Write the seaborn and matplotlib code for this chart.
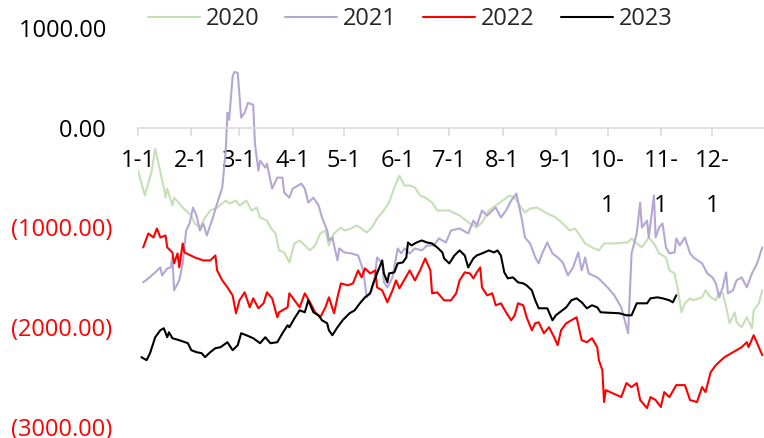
import matplotlib
matplotlib.use("Agg")
import matplotlib.pyplot as plt
import seaborn as sns
import pandas as pd

# ---- data (day of year, value) ----
days_2020 = [0, 4, 8, 10, 15, 16, 17, 20, 21, 26, 31, 33, 36, 39, 42, 46, 51, 53, 57, 59, 63, 66, 69, 71, 75, 77, 80, 82, 85, 88,
             91, 94, 97, 100, 103, 106, 109, 111, 114, 118, 120, 124, 127, 130, 133, 136, 139, 142, 146, 149, 152, 155, 158,
             161, 164, 167, 171, 174, 178, 181, 187, 193, 197, 200, 204, 208, 212, 216, 219, 222, 225, 228, 232, 238, 243,
             247, 251, 254, 257, 260, 264, 268, 271, 277, 285, 287, 290, 293, 297, 300, 303, 307, 309, 312, 314, 316, 318,
             321, 323, 328, 330, 333, 336, 338, 340, 342, 344, 347, 348, 351, 354, 357, 358, 361, 363]
vals_2020 = [-430, -680, -430, -210, -600, -700, -610, -780, -700, -800, -880, -960, -1000, -900, -830, -800, -730, -760, -730,
             -780, -730, -830, -800, -900, -930, -1000, -1060, -1230, -1250, -1350,
             -1160, -1130, -1180, -1230, -1180, -1060, -1030, -1180, -1060, -1000, -1030, -1010, -980, -1010, -1050, -1000,
             -910, -850, -750, -600, -480, -580, -580, -600, -680, -700, -750, -830, -830, -830, -880, -960, -1000, -950,
             -830, -780, -730, -680, -700, -780, -850, -810, -800, -860, -900, -960, -1030, -1010, -1080, -1160, -1200,
             -1230, -1160, -1160, -1150, -1110, -1160, -1200, -1100, -1160, -1260, -1300, -1430, -1460, -1630, -1850,
             -1760, -1710, -1730, -1700, -1630, -1700, -1730, -1650, -1660, -1800, -1960, -1850, -1950, -2000, -1900,
             -2010, -1830, -1760, -1630]

days_2021 = [3, 6, 10, 13, 14, 17, 19, 20, 21, 24, 26, 28, 30, 32, 34, 36, 38, 40, 43, 46, 49, 51, 52, 53, 55, 56, 58, 60, 62,
             64, 67, 68, 70, 71, 74, 75, 78, 81, 84, 85, 88, 90, 95, 97, 99, 102, 105, 107, 110, 111, 113, 116, 117, 120,
             124, 128, 131, 133, 136, 138, 139, 142, 143, 145, 148, 151, 153, 155, 158, 161, 165, 168, 172, 175, 179, 182,
             187, 192, 195, 197, 200, 203, 208, 211, 214, 217, 220, 223, 225, 228, 231, 233, 235, 238, 241, 244, 247, 250,
             253, 256, 258, 260, 262, 267, 269, 273, 277, 281, 283, 285, 287, 290, 292, 293, 296, 297, 300, 301, 303, 305,
             307, 309, 312, 313, 315, 318, 321, 323, 328, 331, 334, 336, 338, 340, 342, 343, 346, 348, 351, 354, 357, 360,
             363]
vals_2021 = [-1550, -1510, -1450, -1400, -1480, -1410, -1400, -1300, -1630, -1530, -1360, -1030, -960, -800, -880, -1030,
             -960, -1080, -930, -760, -600, -230, 150, 80, 510, 560, 550, 100, 150,
             250, 230, -160, -430, -330, -400, -360, -610, -500, -500, -650, -700, -610, -560, -610, -750, -700, -780,
             -900, -1030, -1130, -1100, -1330, -1210, -1250,
             -1260, -1280, -1430, -1700, -1630, -1460, -1300, -1360, -1550, -1600, -1500, -1210, -1260, -1210, -1260,
             -1210, -1230, -1180, -1180, -1110, -1150, -1030,
             -1010, -1060, -930, -980, -830, -880, -800, -900, -830, -730, -660, -900, -1100, -1160, -1300, -1360, -1260,
             -1150, -1260, -1300, -1350, -1480,
             -1400, -1250, -1430, -1300, -1460, -1500, -1530, -1600, -1680, -1800, -1930, -2060, -1260, -1060, -750,
             -1000, -930, -1100, -680, -1100, -1000, -960,
             -1200, -1260, -1250, -1110, -1180, -1100, -1260, -1300, -1360, -1460, -1500, -1560, -1700, -1600, -1450,
             -1660, -1630, -1530, -1500, -1600, -1460, -1360,
             -1200]

days_2022 = [3, 6, 9, 11, 13, 16, 17, 20, 21, 23, 24, 26, 27, 33, 38, 42, 45, 46, 49, 52, 55, 57, 59, 62, 65, 67, 70, 73, 75,
             78, 81, 82, 87, 88, 91, 94, 97, 100, 103, 106, 109, 111, 114, 116, 118, 122, 125, 128, 130, 132, 135, 138,
             139, 142, 145, 148, 150, 152, 158, 161, 164, 167, 170, 171, 174, 178, 182, 185, 187, 190, 193, 195, 197, 199,
             200, 203, 206, 208, 211, 214, 217, 219, 221, 224, 226, 229, 231, 233, 236, 239, 242, 244, 246, 249, 252, 255,
             258, 261, 264, 267, 268, 270, 271, 272, 281, 284, 287, 290, 292, 296, 298, 301, 304, 306, 309, 313, 318, 321,
             325, 328, 330, 333, 336, 341, 348, 351, 354, 355, 358, 361, 363]
vals_2022 = [-1200, -1060, -1100, -1010, -1100, -1080, -1200, -1250, -1360, -1260, -1400, -1160, -1250, -1300, -1330,
             -1330, -1280, -1430, -1530, -1600, -1680, -1860, -1730, -1650, -1800, -1710, -1810, -1760, -1650,
             -1710, -1900, -1850, -1800, -1660, -1730, -1800, -1660, -1750, -1850, -1900, -1800, -1700, -1860, -1700,
             -1560, -1580, -1560, -1430, -1500, -1410, -1460, -1430,
             -1600, -1630, -1750, -1630, -1530, -1610, -1430, -1530, -1430, -1310, -1430, -1660, -1650, -1730, -1730,
             -1660, -1530, -1450, -1460, -1510, -1450, -1400,
             -1600, -1680, -1660, -1780, -1760, -1850, -1930, -1880, -1760, -1780, -1900, -2030, -1960, -1950, -2060,
             -2000, -2100, -2180, -2030, -1960, -1930, -1900,
             -2130, -2150, -2110, -2200, -2330, -2430, -2750, -2630, -2700, -2560, -2600, -2560, -2730, -2810, -2700,
             -2730, -2800, -2650, -2700, -2580, -2580, -2730,
             -2750, -2600, -2650, -2450, -2380, -2300, -2230, -2200, -2150, -2200, -2080, -2200, -2280]

days_2023 = [2, 5, 7, 10, 13, 15, 17, 18, 20, 24, 29, 31, 34, 37, 39, 42, 45, 48, 52, 55, 58, 60, 63, 67, 71, 74, 77, 81, 84,
             87, 88, 91, 94, 97, 99, 102, 105, 107, 110, 111, 113, 116, 119, 123, 126, 129, 132, 135, 136, 139, 142, 143,
             145, 146, 149, 151, 154, 156, 157, 159, 162, 165, 168, 171, 174, 177, 178, 181, 184, 187, 190, 192, 195, 197,
             200, 204, 207, 209, 211, 213, 215, 218, 221, 224, 226, 229, 231, 233, 238, 241, 243, 249, 252, 255, 258, 261,
             264, 267, 269, 280, 284, 287, 290, 296, 298, 302, 305, 309, 311, 313]
vals_2023 = [-2300, -2330, -2260, -2100, -2030, -2010, -2100, -2050, -2110, -2130, -2160, -2230, -2250, -2260, -2300,
             -2250, -2210, -2200, -2150, -2230, -2180, -2060, -2080, -2110, -2160, -2100, -2160, -2150, -2060,
             -1980, -2000, -1910, -1830, -1850, -1730, -1850, -1880, -1930, -1960, -2030, -2080, -2000, -1930, -1860,
             -1830, -1760, -1700, -1660, -1600, -1460, -1330, -1460,
             -1550, -1460, -1450, -1360, -1350, -1300, -1150, -1180, -1150, -1130, -1150, -1160, -1200, -1250, -1310,
             -1360, -1280, -1230, -1280, -1400, -1310, -1280,
             -1260, -1230, -1250, -1230, -1280, -1450, -1510, -1500, -1550, -1560, -1580, -1630, -1730, -1810, -1810,
             -1930, -1880, -1800, -1730, -1710, -1750, -1810,
             -1780, -1800, -1850, -1860, -1880, -1880, -1760, -1760, -1710, -1700, -1710, -1730, -1750, -1680]

years = ["2020", "2021", "2022", "2023"]
colors = ["#C5E0B4", "#B4A7D6", "#FF0000", "#000000"]

month_days = [0, 31, 59, 90, 120, 151, 181, 212, 243, 273, 304, 334]
month_labels = ["1-1", "2-1", "3-1", "4-1", "5-1", "6-1", "7-1", "8-1", "9-1", "10-\n1", "11-\n1", "12-\n1"]
y_ticks = [1000, 0, -1000, -2000, -3000]

# ---- build long table ----
frames = []
for yr, d, v in zip(years, [days_2020, days_2021, days_2022, days_2023],
                    [vals_2020, vals_2021, vals_2022, vals_2023]):
    frames.append(pd.DataFrame({"day": d, "value": v, "year": yr}))
df = pd.concat(frames, ignore_index=True)

sns.set_theme(style="white")
plt.rcParams["font.family"] = ["Open Sans", "DejaVu Sans"]

fig = plt.figure(figsize=(7.64, 4.38), dpi=100)
ax = fig.add_axes([138 / 764, 1 - 427 / 438, 1 - 138 / 764, (427 - 28) / 438])

sns.lineplot(data=df, x="day", y="value", hue="year", hue_order=years,
             palette=dict(zip(years, colors)), estimator=None, sort=False,
             linewidth=1.5, ax=ax)

ax.set_xlim(0, 364)
ax.set_ylim(-3000, 1000)
ax.set_xlabel("")
ax.set_ylabel("")

for s in ["left", "top", "right"]:
    ax.spines[s].set_visible(False)
ax.spines["bottom"].set_position(("data", 0))
ax.spines["bottom"].set_color("#D9D9D9")
ax.spines["bottom"].set_linewidth(1.1)

ax.set_xticks(month_days)
ax.set_xticklabels(month_labels, fontsize=17, color="#000000", linespacing=2.15)
ax.tick_params(axis="x", direction="out", length=5.8, width=1.1, color="#D9D9D9", pad=9.8, bottom=True)

ax.set_yticks(y_ticks)
ylabels = []
for t in y_ticks:
    if t < 0:
        ylabels.append("(%.2f)" % abs(t))
    else:
        ylabels.append("%.2f " % t)
ax.set_yticklabels(ylabels, fontsize=17)
for lab, t in zip(ax.get_yticklabels(), y_ticks):
    lab.set_color("#FF0000" if t < 0 else "#000000")
ax.tick_params(axis="y", length=0, pad=18.5)

handles, labels = ax.get_legend_handles_labels()
if ax.get_legend() is not None:
    ax.get_legend().remove()
fig.legend(handles, labels, loc="center", bbox_to_anchor=(410 / 764, 1 - 19 / 438), ncol=4,
           frameon=False, fontsize=17, handlelength=2.2, handletextpad=0.25, columnspacing=1.1,
           borderpad=0, borderaxespad=0)

fig.savefig("out.png", dpi=100)
